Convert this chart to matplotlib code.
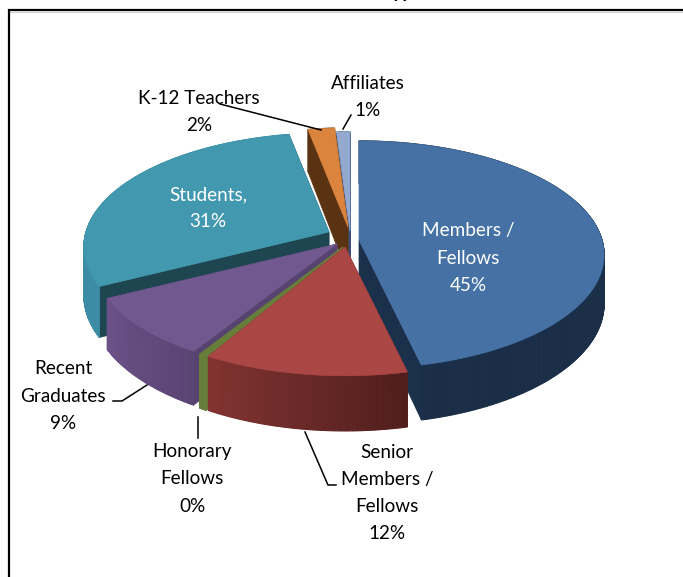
import numpy as np
import matplotlib
matplotlib.use("Agg")
import matplotlib.pyplot as plt
from matplotlib.collections import PolyCollection
from matplotlib.patches import Polygon

# ---- data ----
names = ["Members /\nFellows", "Senior\nMembers /\nFellows", "Honorary\nFellows",
         "Recent\nGraduates", "Students,", "K-12 Teachers", "Affiliates"]
values = [45, 12, 0.49, 9, 31, 2, 1]
pct_labels = ["45%", "12%", "0%", "9%", "31%", "2%", "1%"]
title = "Member Type"

# ---- styling / layout (pixel space of the picture) ----
apex = [(359, 240), (345, 247), (343, 247), (337, 244), (329, 232), (348, 227), (350, 231)]
top_col = ["#4571A5", "#AA4644", "#667E3A", "#71588F", "#4198AF", "#DB843D", "#93A9D0"]
face_col = ["#1B304B", "#6A2A28", "#667E3A", "#574370", "#1E4650", "#5A3412", "#3C5078"]
wall_a = ["#1C304C", "#501E1C", "#667E3A", "#5A4474", "#3C8CA5", "#5A3412", "#3C5078"]
wall_b = ["#1A2E48", "#823432", "#667E3A", "#6C5288", "#3C8CA5", "#5A3412", "#3C5078"]
order = [6, 5, 4, 0, 3, 2, 1]
RX, RY, PERSP, DEPTH = 243, 112, 0.13, 48
label_pos = [(468, 258), (387, 493), (192, 479), (63, 396), (208, 208), (199, 112), (368, 97)]
label_col = ["white", "black", "black", "black", "white", "black", "black"]
leaders = [None, [(305, 432), (328, 485), (336, 485)], [(198, 417), (198, 438)],
           [(113, 401), (122, 401), (147, 385)], None,
           [(220, 104), (321, 130)], [(351, 115), (343, 129)]]


def hex_rgb(c):
    return np.array(matplotlib.colors.to_rgb(c))


def rim(a_deg, ap):
    """Screen position(s) of rim points and their scale, for clockwise angle from the top."""
    a = np.radians(a_deg)
    warped = a + np.radians(6) * np.sin(a / 2) ** 2
    u, v = np.sin(warped), -np.cos(warped)
    s = 1 / (1 - PERSP * v)
    return ap[0] + RX * u * s, ap[1] + RY * v * s, s


fig = plt.figure(figsize=(6.83, 5.77), dpi=100)
ax = fig.add_axes([0, 0, 1, 1])
ax.set_xlim(0, 683)
ax.set_ylim(577, 0)
ax.axis("off")
plt.rcParams["font.family"] = ["Lato", "DejaVu Sans"]

# chart frame
ax.plot([8.5, 8.5, 700], [700, 9.5, 9.5], color="black", lw=1.6, solid_joinstyle="miter", zorder=1)
ax.plot([10, 700], [11.5, 11.5], color="#D0D0D0", lw=0.8, zorder=1)

edges = np.concatenate([[0], np.cumsum(values)]) / np.sum(values) * 360
z = 2
for i in order:
    a0, a1 = edges[i], edges[i + 1]
    ap = apex[i]
    angs = np.linspace(a0, a1, max(int((a1 - a0) * 2), 6))
    x, y, s = rim(angs, ap)
    d = DEPTH * s
    # cut faces
    for k in (0, -1):
        ax.add_patch(Polygon([ap, (x[k], y[k]), (x[k], y[k] + d[k]), (ap[0], ap[1] + DEPTH)],
                             closed=True, fc=face_col[i], ec=face_col[i], lw=0.5, zorder=z))
    # outer wall, shaded along the rim
    quads = [[(x[j], y[j]), (x[j + 1], y[j + 1]), (x[j + 1], y[j + 1] + d[j + 1]), (x[j], y[j] + d[j])]
             for j in range(len(x) - 1)]
    t = np.linspace(0, 1, len(quads))[:, None]
    cols = hex_rgb(wall_a[i]) * (1 - t) + hex_rgb(wall_b[i]) * t
    ax.add_collection(PolyCollection(quads, facecolors=cols, edgecolors=cols, linewidths=0.8, zorder=z))
    # top surface
    ax.add_patch(Polygon(np.column_stack([np.r_[ap[0], x], np.r_[ap[1], y]]), closed=True,
                         fc=top_col[i], ec=top_col[i], lw=0.5, zorder=z + 0.5))
    z += 1

# leader lines
for pts in leaders:
    if pts:
        ax.plot(*zip(*pts), color="black", lw=1.1, zorder=20, solid_joinstyle="miter")

# labels
for n, p, pos, c in zip(names, pct_labels, label_pos, label_col):
    ax.text(pos[0], pos[1], n + "\n" + p, ha="center", va="center", color=c, fontsize=13.6,
            linespacing=1.72, zorder=21)

ax.text(423, -2, title, ha="right", va="baseline", fontsize=13.6, fontweight="bold", color="black", zorder=21)

fig.savefig("out.png", dpi=100)
